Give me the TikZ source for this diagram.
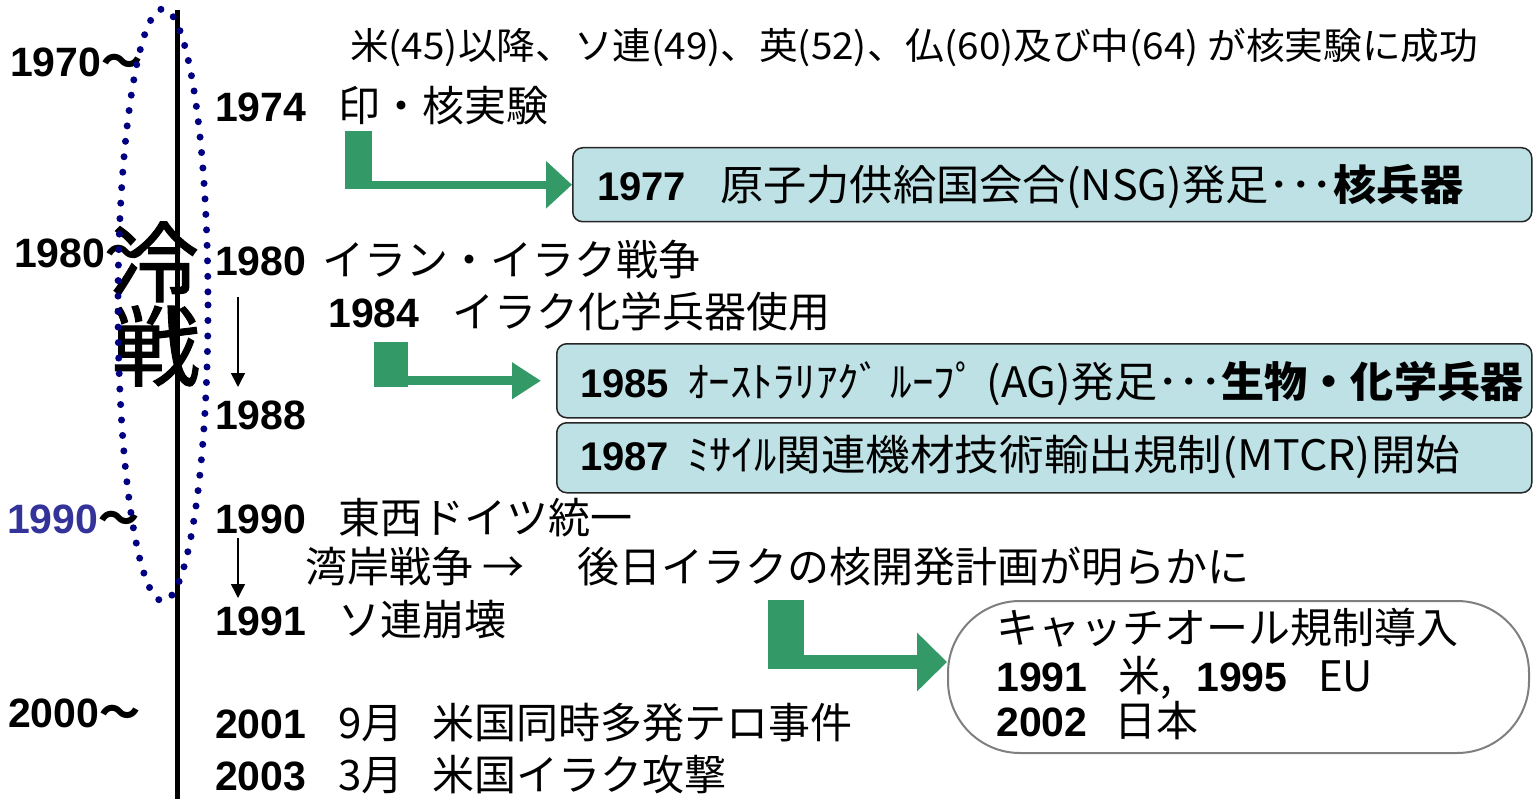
\documentclass[tikz,border=0pt]{standalone}
\usepackage{fontspec}
\usepackage{graphicx}
\setmainfont{Liberation Sans}
\newfontfamily\jp{Noto Sans CJK JP}
\newfontfamily\jpm[FakeBold=1.2]{Noto Sans CJK JP}
\usetikzlibrary{arrows.meta}
\definecolor{gr}{HTML}{339966}
\definecolor{boxc}{HTML}{BDE1E4}
\definecolor{navyd}{HTML}{000080}
\definecolor{blu}{HTML}{333399}
\definecolor{grayb}{HTML}{7F7F7F}
\newcommand\fw[2]{\resizebox{#1pt}{\height}{#2}}
\tikzset{
  T/.style={inner sep=0pt, anchor=base west, font=\jp\fontsize{42}{48}\selectfont},
  Y/.style={inner sep=0pt, anchor=base west, font=\bfseries\fontsize{41}{48}\selectfont},
  BY/.style={inner sep=0pt, anchor=base west, font=\bfseries\fontsize{40}{48}\selectfont},
  box/.style={draw=black!85, line width=1.5pt, fill=boxc, rounded corners=10pt, inner sep=0pt, anchor=north west},
  big/.style={inner sep=0pt, font=\jpm\fontsize{88}{90}\selectfont},
  small arrow/.style={line width=1.5pt, -{Triangle[length=14pt,width=14pt]}},
}
\begin{document}
\begin{tikzpicture}[x=1pt,y=-1pt]
\useasboundingbox (0,0) rectangle (1533,799);
% timeline axis
\coordinate (ltop) at (177.5,10);
\coordinate (lbot) at (177.5,799);
\draw[line width=5pt] (ltop) -- (lbot);
% cold war label
\node[big] (rei) at (155,262) {冷};
\node[big] (sen) at (156,346) {戦};
% left decade labels
\node[Y] (l1970) at (10,77) {1970\jp ～};
\node[Y] (l1980) at (14,268) {1980\jp ～};
\node[Y] (l1990) at (7,533) {{\color{blu}1990}\jp ～};
\node[Y] (l2000) at (8,727) {2000\jp ～};
% dotted ellipse
\draw[navyd, line width=7pt, line cap=round, dash pattern=on 0pt off 15.5pt] (163,305) ellipse [x radius=45, y radius=296];
% top line
\node[T, font=\jp\fontsize{37}{44}\selectfont] (top) at (350,60) {\fw{1128}{米(45)以降、ソ連(49)、英(52)、仏(60)及び中(64) が核実験に成功}};
% events
\node[Y] (y1974) at (215,122) {1974};
\node[T] (t1974) at (338,122) {印・核実験};
\node[Y] (y1980) at (215,276) {1980};
\node[T] (t1980) at (322,276) {イラン・イラク戦争};
\node[Y] (y1984) at (328,327) {1984};
\node[T] (t1984) at (452,327) {イラク化学兵器使用};
\node[Y] (y1988) at (215,429) {1988};
\node[Y] (y1990) at (215,533) {1990};
\node[T] (t1990) at (338,533) {東西ドイツ統一};
\node[T] (wan) at (305,582) {湾岸戦争 →};
\node[T] (gojitsu) at (577,582) {後日イラクの核開発計画が明らかに};
\node[Y] (y1991) at (215,635) {1991};
\node[T] (t1991) at (338,635) {ソ連崩壊};
\node[Y] (y2001) at (215,738) {2001};
\node[T] (m2001) at (338,738) {9月};
\node[T] (t2001) at (432,738) {米国同時多発テロ事件};
\node[Y] (y2003) at (215,790) {2003};
\node[T] (m2003) at (338,790) {3月};
\node[T] (t2003) at (432,790) {米国イラク攻撃};
% small arrows
\coordinate (s1a) at (238,297);
\coordinate (s1b) at (238,387);
\coordinate (s2a) at (238,538);
\coordinate (s2b) at (238,598);
\draw[small arrow] (s1a) -- (s1b);
\draw[small arrow] (s2a) -- (s2b);
% boxes
\node[box, minimum width=959pt, minimum height=74pt] (nsg) at (572,147) {};
\node[box, minimum width=975pt, minimum height=74pt] (ag) at (556,343) {};
\node[box, minimum width=975pt, minimum height=70pt] (mtcr) at (556,422) {};
\node[BY] (n1977) at (597,201) {1977};
\node[T] (t1977) at (720,201) {\fw{743}{原子力供給国会合(NSG)発足･･･\textbf{核兵器}}};
\node[BY] (n1985) at (580,397) {1985};
\node[T] (t1985) at (687,397) {\fw{836}{ｵｰｽﾄﾗﾘｱｸﾞ ﾙｰﾌﾟ (AG)発足･･･\textbf{生物・化学兵器}}};
\node[BY] (n1987) at (580,470) {1987};
\node[T] (t1987) at (687,470) {\fw{773}{ﾐｻｲﾙ関連機材技術輸出規制(MTCR)開始}};
% catch-all
\node[draw=grayb, line width=2pt, fill=white, rounded corners=72pt, inner sep=0pt, anchor=north west, minimum width=581pt, minimum height=152pt] (catch) at (947,600) {};
\node[T] (ca) at (996,643) {キャッチオール規制導入};
\node[Y] (c1991) at (996,691) {1991};
\node[T] (cus) at (1118,691) {米,};
\node[Y] (c1995) at (1196,691) {1995};
\node[T] (ceu) at (1318,691) {EU};
\node[Y] (c2002) at (996,736) {2002};
\node[T] (cjp) at (1114,736) {日本};
% green bent arrows
\draw[gr, line width=27pt] (358.5,131) -- (358.5,187);
\draw[gr, line width=8pt, -{Triangle[length=26pt,width=46pt]}] (345,0 |- nsg.west) -- (nsg.west);
\draw[gr, line width=34pt] (391,342) -- (391,387);
\draw[gr, line width=9pt, -{Triangle[length=29pt,width=35pt]}, shorten >=15pt] (374,0 |- ag.west) -- (ag.west);
\coordinate (r3) at (0,662);
\draw[gr, line width=36pt] (786,600) -- (786,669);
\draw[gr, line width=14pt, -{Triangle[length=30pt,width=57pt]}] (768,662) -- (catch.west |- r3);
\end{tikzpicture}
\end{document}
